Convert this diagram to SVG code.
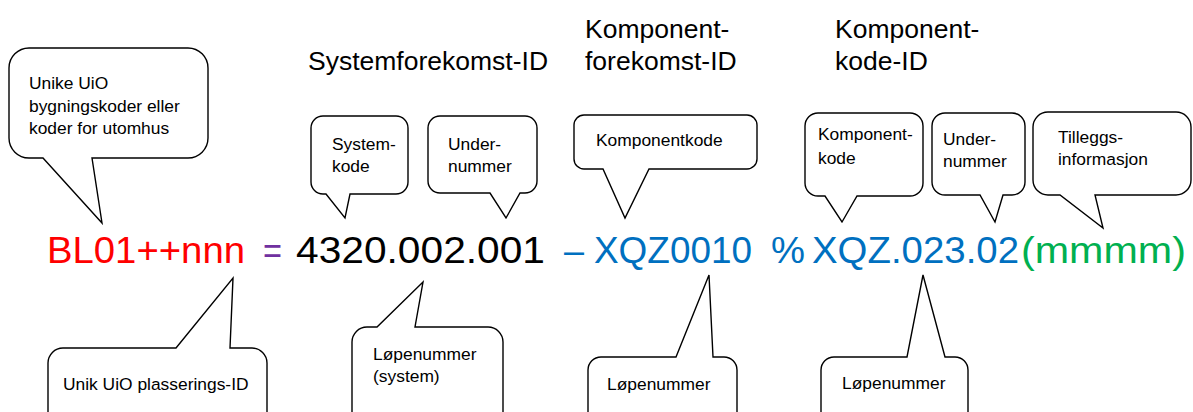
<svg xmlns="http://www.w3.org/2000/svg" width="1193" height="412" viewBox="0 0 1193 412">
<style>
.bubble{fill:#ffffff;stroke:#000000;stroke-width:1.4;stroke-linejoin:miter}
.ct{font-family:"Liberation Sans",Arial,sans-serif;font-size:17.4px;fill:#000000}
.hd{font-family:"Liberation Sans",Arial,sans-serif;font-size:26.5px;fill:#000000}
.mf{font-family:"Liberation Sans",Arial,sans-serif;font-size:37px}
</style>
<rect x="0" y="0" width="1193" height="412" fill="#ffffff"/>
<g id="headings">
<text class="hd" x="308" y="70">Systemforekomst-ID</text>
<text class="hd" x="585" y="38">Komponent-</text>
<text class="hd" x="585" y="70">forekomst-ID</text>
<text class="hd" x="835" y="38">Komponent-</text>
<text class="hd" x="835" y="70">kode-ID</text>
</g>
<g id="formula">
<text class="mf" x="47" y="263" fill="#FF0000" textLength="198" lengthAdjust="spacingAndGlyphs">BL01++nnn</text>
<text class="mf" x="263" y="263" fill="#7030A0" textLength="19" lengthAdjust="spacingAndGlyphs">=</text>
<text class="mf" x="296" y="263" fill="#000000" textLength="249" lengthAdjust="spacingAndGlyphs">4320.002.001</text>
<text class="mf" x="564" y="263" fill="#0070C0" textLength="20" lengthAdjust="spacingAndGlyphs">–</text>
<text class="mf" x="594" y="263" fill="#0070C0" textLength="158" lengthAdjust="spacingAndGlyphs">XQZ0010</text>
<text class="mf" x="771" y="263" fill="#0070C0" textLength="34" lengthAdjust="spacingAndGlyphs">%</text>
<text class="mf" x="812" y="263" fill="#0070C0" textLength="207" lengthAdjust="spacingAndGlyphs">XQZ.023.02</text>
<text class="mf" x="1021" y="263" fill="#00B050" textLength="165" lengthAdjust="spacingAndGlyphs">(mmmm)</text>
</g>
<g id="callout-bygningskode">
<path class="bubble" d="M29,48 H188 A20,20 0 0 1 208,68 V138 A20,20 0 0 1 188,158 H92 L102,223 L43,158 H29 A20,20 0 0 1 9,138 V68 A20,20 0 0 1 29,48 Z"/>
<text class="ct" x="29" y="89">Unike UiO</text>
<text class="ct" x="29" y="112">bygningskoder eller</text>
<text class="ct" x="29" y="134">koder for utomhus</text>
</g>
<g id="callout-systemkode">
<path class="bubble" d="M323,116 H396 A12,12 0 0 1 408,128 V182 A12,12 0 0 1 396,194 H350 L345,218 L326,194 H323 A12,12 0 0 1 311,182 V128 A12,12 0 0 1 323,116 Z"/>
<text class="ct" x="332" y="150">System-</text>
<text class="ct" x="332" y="172">kode</text>
</g>
<g id="callout-undernummer-1">
<path class="bubble" d="M440,116 H525 A12,12 0 0 1 537,128 V181 A12,12 0 0 1 525,193 H520 L506,218 L490,193 H440 A12,12 0 0 1 428,181 V128 A12,12 0 0 1 440,116 Z"/>
<text class="ct" x="448" y="150">Under-</text>
<text class="ct" x="448" y="172">nummer</text>
</g>
<g id="callout-komponentkode-1">
<path class="bubble" d="M584,115 H747 A10,10 0 0 1 757,125 V159 A10,10 0 0 1 747,169 H649 L625,218 L603,169 H584 A10,10 0 0 1 574,159 V125 A10,10 0 0 1 584,115 Z"/>
<text class="ct" x="596" y="146">Komponentkode</text>
</g>
<g id="callout-komponentkode-2">
<path class="bubble" d="M818,113 H910 A13,13 0 0 1 923,126 V183 A13,13 0 0 1 910,196 H857 L842,222 L825,196 H818 A13,13 0 0 1 805,183 V126 A13,13 0 0 1 818,113 Z"/>
<text class="ct" x="818" y="140">Komponent-</text>
<text class="ct" x="818" y="164">kode</text>
</g>
<g id="callout-undernummer-2">
<path class="bubble" d="M945,113 H1012 A13,13 0 0 1 1025,126 V182 A13,13 0 0 1 1012,195 H1003 L995,222 L980,195 H945 A13,13 0 0 1 932,182 V126 A13,13 0 0 1 945,113 Z"/>
<text class="ct" x="943" y="145">Under-</text>
<text class="ct" x="943" y="167">nummer</text>
</g>
<g id="callout-tilleggsinformasjon">
<path class="bubble" d="M1048,112 H1176 A15,15 0 0 1 1191,127 V180 A15,15 0 0 1 1176,195 H1095 L1103,228 L1060,195 H1048 A15,15 0 0 1 1033,180 V127 A15,15 0 0 1 1048,112 Z"/>
<text class="ct" x="1058" y="143">Tilleggs-</text>
<text class="ct" x="1058" y="165">informasjon</text>
</g>
<g id="callout-plasserings-id">
<path class="bubble" d="M63,348 H176 L233,278 L230,348 H252 A15,15 0 0 1 267,363 V430 H48 V363 A15,15 0 0 1 63,348 Z"/>
<text class="ct" x="63" y="390">Unik UiO plasserings-ID</text>
</g>
<g id="callout-lopenummer-system">
<path class="bubble" d="M367,327 H377 L423,282 L415,327 H488 A15,15 0 0 1 503,342 V430 H352 V342 A15,15 0 0 1 367,327 Z"/>
<text class="ct" x="373" y="360">Løpenummer</text>
<text class="ct" x="373" y="382">(system)</text>
</g>
<g id="callout-lopenummer-komponent">
<path class="bubble" d="M601,357 H676 L709,275 L713,357 H724 A13,13 0 0 1 737,370 V430 H588 V370 A13,13 0 0 1 601,357 Z"/>
<text class="ct" x="607" y="390">Løpenummer</text>
</g>
<g id="callout-lopenummer-kode">
<path class="bubble" d="M834,357 H907 L923,275 L945,357 H955 A13,13 0 0 1 968,370 V430 H821 V370 A13,13 0 0 1 834,357 Z"/>
<text class="ct" x="842" y="389">Løpenummer</text>
</g>
<g id="connectors"></g>
</svg>
